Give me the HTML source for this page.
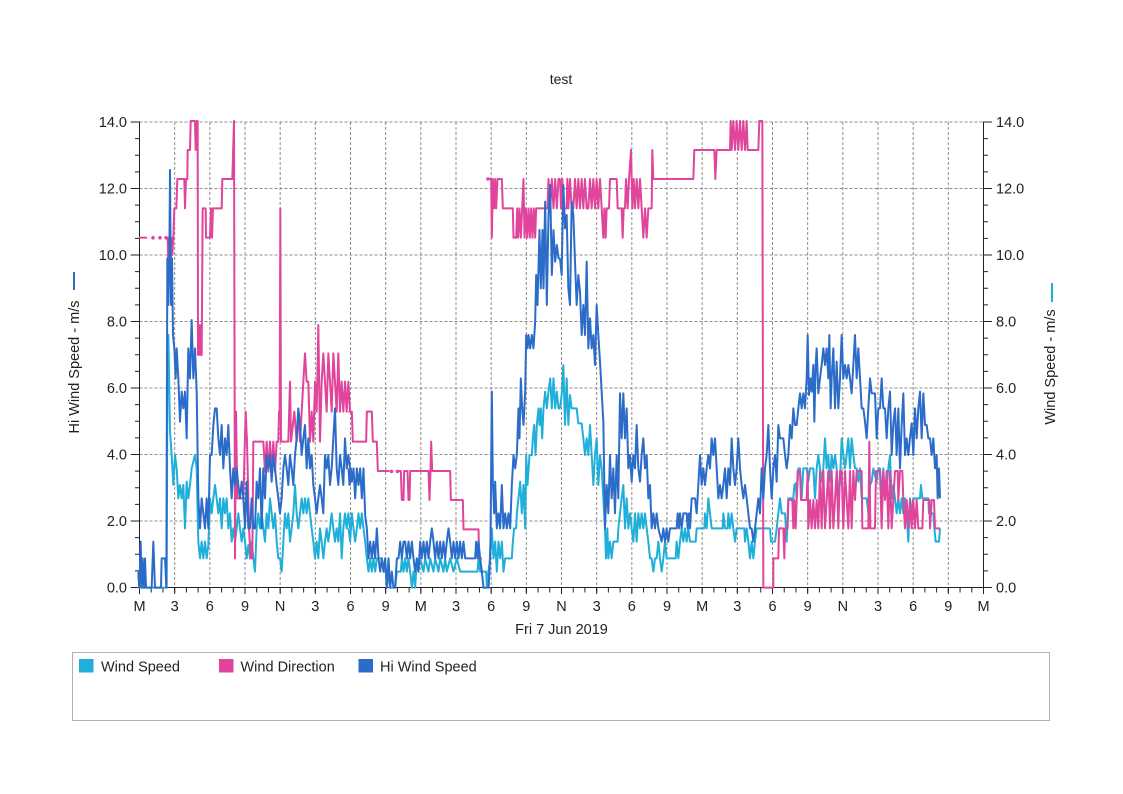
<!DOCTYPE html>
<html><head><meta charset="utf-8"><style>
html,body{margin:0;padding:0;background:#fff;}
svg{display:block;font-family:"Liberation Sans",Arial,sans-serif;}
</style></head><body>
<svg width="1123" height="794" viewBox="0 0 1123 794" xmlns="http://www.w3.org/2000/svg">
<rect width="1123" height="794" fill="#fff"/>
<text x="561" y="84" font-size="14" text-anchor="middle" fill="#222">test</text>

<path fill="none" stroke="#8c8c8c" stroke-width="1" stroke-dasharray="3 2" d="M139.5 122H983.5M139.5 188.5H983.5M139.5 255H983.5M139.5 321.5H983.5M139.5 388H983.5M139.5 454.5H983.5M139.5 521H983.5M174.67 122V587.5M209.83 122V587.5M245 122V587.5M280.17 122V587.5M315.33 122V587.5M350.5 122V587.5M385.67 122V587.5M420.83 122V587.5M456 122V587.5M491.17 122V587.5M526.33 122V587.5M561.5 122V587.5M596.67 122V587.5M631.83 122V587.5M667 122V587.5M702.17 122V587.5M737.33 122V587.5M772.5 122V587.5M807.67 122V587.5M842.83 122V587.5M878 122V587.5M913.17 122V587.5M948.33 122V587.5"/>

<g stroke="#222" stroke-width="1" fill="none">
<path d="M139.5 121.5V588M983.5 121.5V588M139 587.5H984"/>
<line x1="137.25" y1="588" x2="137.25" y2="121" stroke-width="4.5" stroke-dasharray="1 15.625"/>
<line x1="985.75" y1="588" x2="985.75" y2="121" stroke-width="4.5" stroke-dasharray="1 15.625"/>
<line x1="139" y1="590" x2="985" y2="590" stroke-width="5" stroke-dasharray="1 10.7222"/>
<line x1="139" y1="590.75" x2="985" y2="590.75" stroke-width="6.5" stroke-dasharray="1 34.1667"/>
<line x1="135" y1="588" x2="135" y2="121" stroke-width="8.5" stroke-dasharray="1 65.5"/>
<line x1="987.75" y1="588" x2="987.75" y2="121" stroke-width="8.5" stroke-dasharray="1 65.5"/>
</g>

<g font-size="14.5" fill="#222" text-anchor="end">
<text x="127" y="592.5">0.0</text><text x="127" y="526">2.0</text><text x="127" y="459.5">4.0</text><text x="127" y="393">6.0</text><text x="127" y="326.5">8.0</text><text x="127" y="260">10.0</text><text x="127" y="193.5">12.0</text><text x="127" y="127">14.0</text>
</g>
<g font-size="14.5" fill="#222">
<text x="996" y="592.5">0.0</text><text x="996" y="526">2.0</text><text x="996" y="459.5">4.0</text><text x="996" y="393">6.0</text><text x="996" y="326.5">8.0</text><text x="996" y="260">10.0</text><text x="996" y="193.5">12.0</text><text x="996" y="127">14.0</text>
</g>
<g font-size="14.5" fill="#222" text-anchor="middle">
<text x="139.5" y="611">M</text><text x="174.67" y="611">3</text><text x="209.83" y="611">6</text><text x="245" y="611">9</text><text x="280.17" y="611">N</text><text x="315.33" y="611">3</text><text x="350.5" y="611">6</text><text x="385.67" y="611">9</text><text x="420.83" y="611">M</text><text x="456" y="611">3</text><text x="491.17" y="611">6</text><text x="526.33" y="611">9</text><text x="561.5" y="611">N</text><text x="596.67" y="611">3</text><text x="631.83" y="611">6</text><text x="667" y="611">9</text><text x="702.17" y="611">M</text><text x="737.33" y="611">3</text><text x="772.5" y="611">6</text><text x="807.67" y="611">9</text><text x="842.83" y="611">N</text><text x="878" y="611">3</text><text x="913.17" y="611">6</text><text x="948.33" y="611">9</text><text x="983.5" y="611">M</text>
<text x="561.5" y="634">Fri 7 Jun 2019</text>
</g>

<line x1="74" y1="272" x2="74" y2="290" stroke="#2c6cc9" stroke-width="2"/>
<text transform="translate(79 367) rotate(-90)" font-size="14.5" fill="#222" text-anchor="middle">Hi Wind Speed - m/s</text>
<line x1="1052" y1="283" x2="1052" y2="302" stroke="#1fafd9" stroke-width="2"/>
<text transform="translate(1055 367) rotate(-90)" font-size="14.5" fill="#222" text-anchor="middle">Wind Speed - m/s</text>

<g fill="none" stroke="#1fafd9" stroke-width="2" stroke-linejoin="round">
<g transform="translate(135 115) scale(0.333333)">
<polyline vector-effect="non-scaling-stroke" points="10,1380 13,1418 17,1330 20,1418 95,1418 97,830 100,660 103,830 105,950 110,1020 115,1110 120,1020 125,1060 130,1150 135,1110 140,1150 145,1110 150,1240 155,1100 160,1150 165,1110 170,1060 180,1020 185,1060 190,1280 195,1330 200,1280 205,1330 210,1280 215,1330 220,1290 225,1150 230,1195 235,1150 240,1110 245,1150 250,1195 255,1150 260,1240 265,1150 270,1195 275,1150 280,1240 285,1195 290,1280 295,1240 300,1280 305,1240 310,1195 315,1240 320,1280 325,1240 330,1280 335,1330 340,1290 345,1330 350,1280 355,1330 360,1370 365,1240 370,1195 375,1240 380,1195 385,1240 390,1280 395,1195 400,1240 405,1150 410,1195 415,1240 420,1195 425,1280 430,1330 435,1330 440,1370 445,1280 450,1195 455,1240 460,1195 465,1280 470,1240 475,1195 480,1110 485,1195 490,1240 495,1195 500,1150 505,1195 510,1150 515,1195 520,1150 525,1195 530,1240 535,1280 540,1330 545,1280 550,1330 555,1240 560,1280 565,1330 570,1280 575,1240 580,1280 585,1240 590,1195 595,1240 600,1280 605,1240 610,1280 615,1195 620,1330 625,1240 630,1195 635,1240 640,1195 645,1240"/>
</g>
<g transform="translate(343.5 115) scale(0.333333)">
<polyline vector-effect="non-scaling-stroke" points="15,1240 20,1280 25,1195 30,1240 35,1280 40,1240 45,1195 50,1240 55,1195 60,1240 65,1280 70,1330 75,1370 80,1330 85,1370 90,1330 95,1370 100,1330 115,1330 120,1370 128,1370 130,1418 135,1370 140,1418 155,1418 160,1370 172,1370 175,1330 180,1370 185,1330 190,1370 195,1330 200,1370 205,1418 210,1370 215,1418 220,1330 225,1370 230,1330 240,1370 245,1330 255,1370 260,1330 270,1370 275,1330 285,1370 290,1330 300,1370 305,1330 310,1370 320,1330 330,1370 340,1330 350,1370 402,1370 405,1330 410,1370 428,1370 430,1418 435,1370 440,1330 445,1240 450,1330 455,1280 460,1370 465,1280 470,1330 475,1280 480,1370 485,1330 505,1330 508,1280 512,1240 518,1240 520,1195 525,1150 530,1100 535,1195 540,1110 545,1240 548,1020 552,1110 558,1020 565,1020 568,970 572,930 576,1020 580,930 585,880 588,930 592,880 596,970 600,880 605,830 610,880 615,830 620,790 625,880 630,790 635,880 640,830 645,880 650,880"/>
</g>
<g transform="translate(555 115) scale(0.333333)">
<polyline vector-effect="non-scaling-stroke" points="15,880 20,840 25,750 30,930 35,790 40,930 45,840 50,880 65,880 70,925 80,925 85,970 90,1020 95,970 100,1020 105,930 110,1020 115,1110 120,1020 125,970 130,1110 135,1020 140,1060 145,1150 150,1240 153,1330 157,1240 160,1330 165,1280 170,1330 175,1280 188,1280 190,1240 195,1195 200,1150 205,1110 210,1240 215,1150 220,1240 225,1195 230,1240 235,1280 240,1195 245,1280 250,1195 255,1240 260,1195 265,1240 270,1195 275,1240 280,1280 285,1330 290,1330 295,1370 300,1330 305,1330 310,1280 315,1330 320,1370 325,1330 330,1280 335,1330 362,1330 365,1280 370,1330 375,1280 380,1240 385,1280 390,1240 395,1280 400,1240 405,1280 422,1280 425,1240 448,1240 450,1195 455,1240 460,1150 465,1195 470,1240 503,1240 505,1195 510,1240 518,1240 520,1195 525,1240 530,1195 535,1240 540,1280 545,1240 568,1240 570,1280 575,1240 580,1280 585,1330 590,1280 595,1330 600,1280 605,1240 645,1240"/>
</g>
<g transform="translate(765 115) scale(0.333333)">
<polyline vector-effect="non-scaling-stroke" points="15,1240 18,1280 30,1280 35,1240 40,1195 45,1150 50,1195 60,1195 65,1280 70,1150 85,1150 88,1110 92,1105 95,1150 100,1060 105,1060 110,1150 115,1060 125,1060 130,1100 135,1060 145,1060 150,1150 155,1060 160,1020 165,1060 170,1100 175,1060 180,970 185,1060 190,1020 195,1100 200,1020 205,1060 210,1020 215,1060 220,1150 225,1100 230,970 235,1020 240,1060 245,1020 250,970 255,1060 260,970 265,1020 270,1060 275,1060 280,1100 285,1060 290,1150 305,1150 310,1195 315,1110 320,1100 325,1060 335,1100 340,1060 345,1060 350,1150 355,1060 360,1150 365,1110 370,1060 375,1020 380,1150 385,1110 390,1150 395,1195 400,1150 405,1195 410,1150 415,1195 420,1150 425,1195 430,1280 435,1150 440,1195 445,1150 465,1150 468,1110 472,1150 490,1150 492,1195 505,1195 508,1240 512,1280 522,1280 525,1240"/>
</g>
</g>

<g fill="none" stroke="#e0449b" stroke-width="2" stroke-linejoin="round">
<g transform="translate(135 115) scale(0.333333)">
<polyline vector-effect="non-scaling-stroke" points="12,368 36,368"/>
<polyline vector-effect="non-scaling-stroke" points="95,368 98,368 100,450 103,368 106,455 109,368 112,420 115,368 118,280 124,280 127,192 148,192 150,280 153,192 157,192 158,105 165,105 167,18 180,18 182,105 185,18 188,18 189,720 192,630 195,720 198,630 200,720 203,280 212,280 213,368 225,368 228,280 231,368 234,280 260,280 262,192 292,192 297,18 300,1330 303,890 307,1150 325,1150 332,890 336,980 342,1240 347,1330 352,1330 355,980 385,980 390,1070 395,980 400,1070 405,980 410,1070 415,980 420,1070 425,980 430,980 432,890 434,890 436,280 438,980 460,980 465,800 468,980 478,890 485,980 490,890 495,980 500,890 505,800 510,715 515,800 520,800 525,980 530,890 535,980 540,800 545,890 550,630 555,980 560,800 565,715 570,800 575,890 580,715 585,800 590,890 595,715 600,800 605,890 610,715 615,890 620,800 625,890 630,800 635,890 640,800 645,890"/>
</g>
<g transform="translate(343.5 115) scale(0.333333)">
<polyline vector-effect="non-scaling-stroke" points="15,890 25,890 28,980 68,980 70,890 85,890 88,980 100,980 103,1068 138,1068"/>
<polyline vector-effect="non-scaling-stroke" points="165,1068 172,1068 175,1155 180,1155 182,1068 192,1068 195,1155 198,1155 200,1068 255,1068 258,1155 261,1068 263,980 266,1068 320,1068 322,1155 358,1155 360,1243 405,1243 407,1330 415,1330"/>
<polyline vector-effect="non-scaling-stroke" points="436,192 443,192 445,368 448,192 452,280 455,192 458,280 462,192 475,192 478,280 508,280 510,368 518,368 521,280 524,368 528,280 532,368 536,280 540,192 543,368 547,280 551,368 555,280 559,368 563,280 567,368 571,280 575,368 578,280 612,280 615,192 620,280 625,192 630,280 635,192 640,280 645,192 650,192"/>
</g>
<g transform="translate(555 115) scale(0.333333)">
<polyline vector-effect="non-scaling-stroke" points="15,192 18,280 22,192 26,280 35,280 37,192 40,280 45,192 50,280 55,280 60,192 65,280 70,192 75,280 80,192 85,280 90,192 95,280 100,280 105,192 110,280 115,192 120,280 125,192 130,280 135,192 140,280 145,368 148,280 152,368 155,280 162,280 165,192 185,192 188,280 200,280 203,368 206,280 210,280 213,192 218,280 222,192 228,105 232,280 236,192 240,280 245,192 250,280 255,192 260,280 265,368 270,280 275,368 280,280 290,280 292,105 295,192 415,192 418,105 478,105 481,192 485,105 525,105 527,18 530,105 535,18 540,105 545,18 550,105 555,18 560,105 565,18 570,105 575,18 578,105 610,105 613,18 622,18 625,1418 645,1418"/>
</g>
<g transform="translate(765 115) scale(0.333333)">
<polyline vector-effect="non-scaling-stroke" points="15,1418 25,1418 25,1330 40,1330 42,1240 55,1240 58,1330 60,1240 68,1240 70,1155 82,1155 85,1240 88,1155 92,1240 95,1155 98,1068 105,1068 108,1155 125,1155 128,1068 130,1240 135,1155 140,1240 145,1155 150,1240 155,1155 160,1240 165,1068 170,1240 175,1068 180,1240 185,1155 190,1068 195,1240 200,1068 205,1240 210,1155 215,1068 220,1240 225,1068 230,1068 235,1240 240,1068 245,1155 250,1240 255,1068 260,1240 265,1068 270,1155 275,1068 290,1068 292,1240 310,1240 313,980 316,1240 330,1240 333,1068 345,1068 350,1240 355,1068 360,1155 365,1068 370,1240 375,1068 380,1240 385,1155 390,1068 398,1068 400,1155 405,1068 412,1068 415,1155 420,1240 425,1155 430,1240 435,1155 440,1240 445,1155 450,1240 455,1155 460,1240 472,1240 475,1155 493,1155 495,1240 500,1155 507,1155 510,1240 525,1240"/>
</g>
</g>
<g fill="#e0449b">
<circle cx="153" cy="237.8" r="1.8"/><circle cx="160" cy="237.8" r="1.8"/><circle cx="166" cy="237.8" r="1.8"/><circle cx="391.5" cy="471.4" r="1.8"/><circle cx="397.5" cy="471.4" r="1.8"/><circle cx="488" cy="179" r="1.8"/>
</g>

<g fill="none" stroke="#2c6cc9" stroke-width="2" stroke-linejoin="round">
<g transform="translate(135 115) scale(0.333333)">
<polyline vector-effect="non-scaling-stroke" points="10,1370 13,1418 17,1280 20,1418 23,1330 27,1418 30,1330 33,1418 50,1418 55,1280 60,1418 78,1418 80,1330 90,1330 94,1418 97,430 100,570 103,430 105,165 108,570 111,430 114,660 118,700 122,790 125,700 130,790 135,920 140,830 145,880 150,830 155,970 160,700 165,790 170,615 175,790 180,700 185,830 190,1150 195,1240 200,1150 205,1195 210,1240 215,1150 220,1240 225,1020 230,1020 235,930 240,880 245,880 250,970 255,1020 260,930 265,1060 270,970 275,1020 280,930 285,1060 290,1150 295,1060 300,1110 305,1060 310,1110 315,1150 320,1100 325,1150 330,1240 335,1100 340,1240 345,1240 350,1150 355,1240 360,1240 365,1100 370,1150 375,1060 380,1240 385,1060 390,1150 395,1020 400,1060 405,1020 410,1100 415,1020 420,1060 425,1110 430,1150 435,1195 440,1150 445,1060 450,1020 455,1060 460,1110 465,1020 470,1060 475,1110 480,1020 485,970 490,880 495,930 500,1020 505,970 510,930 515,1060 520,970 525,1060 530,1020 535,1110 540,1150 545,1195 550,1150 555,1110 560,1150 565,1195 570,1020 575,1060 580,1020 585,1110 590,1060 595,970 600,880 605,1060 610,1110 615,1020 620,1060 625,1110 630,970 635,1060 640,1020 645,1060"/>
</g>
<g transform="translate(343.5 115) scale(0.333333)">
<polyline vector-effect="non-scaling-stroke" points="15,1060 18,1110 22,1060 25,1100 30,1060 35,1150 40,1060 45,1110 50,1060 55,1150 60,1060 65,1200 70,1240 75,1330 80,1280 85,1330 90,1280 95,1330 100,1240 105,1330 110,1370 115,1330 120,1370 125,1330 130,1418 135,1330 140,1418 145,1370 150,1418 155,1418 160,1330 165,1330 170,1280 175,1330 180,1280 185,1280 190,1330 195,1280 200,1330 205,1280 210,1330 215,1370 220,1330 225,1370 230,1280 235,1330 240,1280 245,1330 250,1280 255,1330 260,1280 265,1240 270,1280 275,1330 280,1280 285,1330 290,1280 295,1330 300,1280 305,1330 310,1280 315,1240 320,1280 325,1330 330,1280 335,1330 340,1280 345,1330 350,1280 355,1330 360,1280 365,1330 395,1330 398,1280 402,1330 405,1280 410,1330 415,1370 420,1418 435,1418 438,1370 441,1280 445,830 448,1100 452,1195 455,1100 460,1240 465,1195 470,1240 475,1110 480,1240 485,1195 490,1240 495,1195 500,1240 505,1110 510,1020 515,1060 520,1020 525,880 528,970 532,790 536,880 540,930 545,830 548,660 552,700 555,660 560,700 565,660 570,700 575,620 578,480 582,570 588,345 592,520 597,345 600,520 605,260 610,570 615,300 620,210 625,480 630,345 635,440 640,390 645,430 650,430"/>
</g>
<g transform="translate(555 115) scale(0.333333)">
<polyline vector-effect="non-scaling-stroke" points="15,430 20,480 25,210 30,340 35,300 40,520 45,570 50,260 55,300 60,440 65,570 70,480 75,530 80,660 85,570 90,660 95,440 100,700 105,610 110,700 115,660 120,750 125,570 130,660 135,740 140,830 145,920 150,1240 155,1110 160,1195 165,1020 170,1150 175,1060 180,1195 185,1020 190,1150 195,835 200,970 205,835 210,970 215,880 220,1060 225,1020 230,1100 235,1020 240,1060 245,930 250,1060 255,1100 260,1020 265,970 270,1060 275,1020 280,1150 285,1110 290,1240 295,1195 300,1240 305,1195 310,1240 320,1280 325,1240 330,1280 335,1240 340,1280 345,1240 365,1240 368,1195 372,1240 375,1195 380,1240 385,1195 395,1195 398,1240 402,1195 405,1240 410,1150 420,1150 425,1195 430,1110 435,1020 440,1110 445,1060 450,1110 455,1060 460,1020 465,1060 470,970 475,1020 480,970 485,1060 490,1150 495,1110 500,1150 505,1110 510,1060 515,1150 520,1060 525,1110 530,970 535,1060 540,1110 545,1060 550,970 555,1060 560,1110 565,1150 570,1110 575,1150 580,1195 585,1240 590,1240 595,1280 600,1240 605,1195 610,1150 615,1195 620,1060 625,1150 630,1060 635,1020 640,930 645,1060"/>
</g>
<g transform="translate(765 115) scale(0.333333)">
<polyline vector-effect="non-scaling-stroke" points="15,1060 20,1150 25,1060 30,1020 35,1100 40,930 45,970 55,970 60,1020 65,1060 70,1020 75,930 80,970 85,880 90,930 95,930 100,880 105,835 110,880 115,835 120,880 125,790 128,660 132,840 136,790 140,830 145,750 148,920 152,750 155,700 160,835 165,790 170,750 175,700 180,750 185,700 190,790 193,660 197,880 200,790 205,700 210,880 215,740 220,880 225,790 230,660 235,790 240,750 245,790 250,750 255,790 260,835 265,750 270,660 275,790 280,700 285,790 290,880 295,880 300,920 305,970 310,880 315,790 320,835 330,835 335,970 340,880 345,880 350,790 355,880 360,880 365,970 370,880 375,830 380,1020 385,925 390,880 395,1020 400,880 405,1060 410,930 415,835 420,1020 425,970 430,1020 435,970 440,925 445,1020 450,880 455,970 460,880 465,830 470,970 475,835 480,930 485,930 490,970 495,970 500,1020 505,970 510,1060 515,1020 518,1150 522,1060 525,1150"/>
</g>
</g>

<rect x="72.5" y="652.5" width="977" height="68" fill="none" stroke="#b0b0b0" stroke-width="1"/>
<rect x="79" y="659" width="14.5" height="13.5" fill="#1fafd9"/>
<text x="101" y="671.5" font-size="14.5" fill="#222">Wind Speed</text>
<rect x="219" y="659" width="14.5" height="13.5" fill="#e0449b"/>
<text x="240.5" y="671.5" font-size="14.5" fill="#222">Wind Direction</text>
<rect x="358.5" y="659" width="14.5" height="13.5" fill="#2c6cc9"/>
<text x="380" y="671.5" font-size="14.5" fill="#222">Hi Wind Speed</text>
</svg>
</body></html>
